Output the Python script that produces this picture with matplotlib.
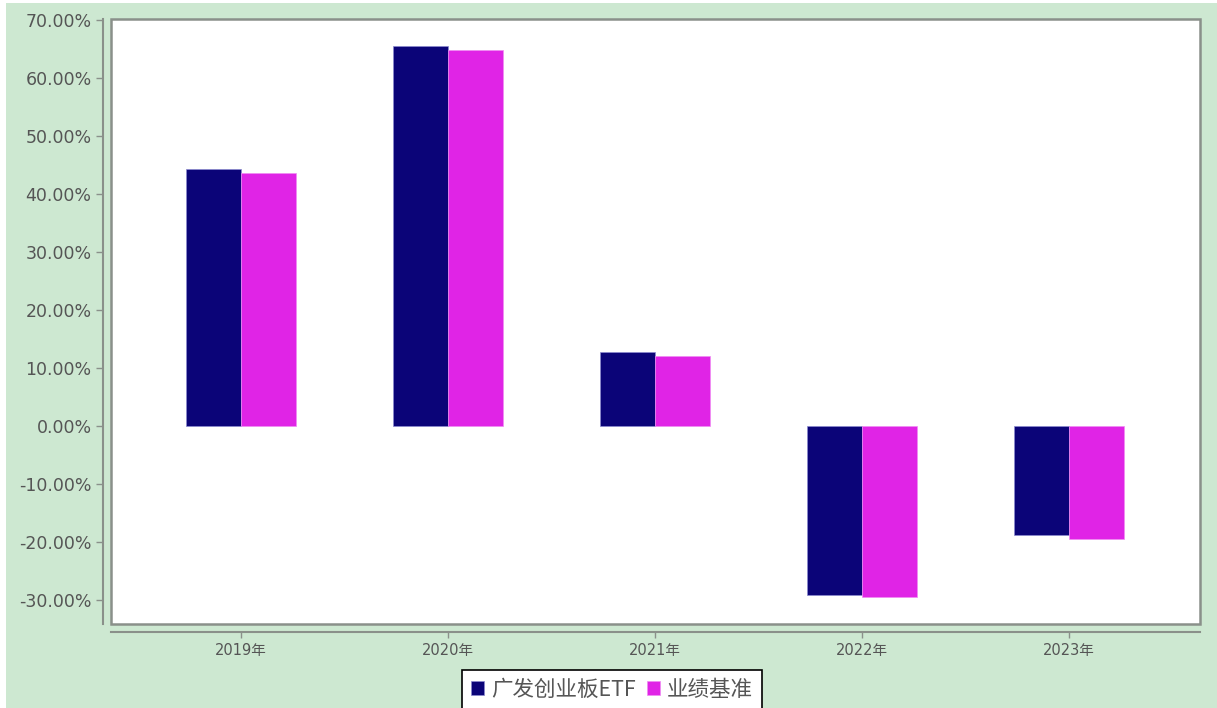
import matplotlib
matplotlib.use('Agg')
import matplotlib.pyplot as plt
from matplotlib.patches import Rectangle
from matplotlib.ticker import FuncFormatter, MultipleLocator
import numpy as np

plt.rcParams['font.family'] = ['DejaVu Sans', 'Noto Sans CJK SC']

# 数据
years = ['2019年', '2020年', '2021年', '2022年', '2023年']
fund = [44.3, 65.6, 12.8, -29.2, -18.8]
bench = [43.6, 64.9, 12.0, -29.4, -19.4]
names = ['广发创业板ETF', '业绩基准']

green = '#cde8d1'
navy = '#0b0478'
pink = '#e024e6'
grey = '#8a908a'

W, H = 1217, 708
fig = plt.figure(figsize=(W / 100, H / 100), dpi=100, facecolor='white')
# fondo verde con borde blanco arriba/izquierda
fig.patches.append(Rectangle((6 / W, 0), 1 - 6 / W, 1 - 3 / H, transform=fig.transFigure,
                             facecolor=green, edgecolor='none', zorder=-10))

ax = fig.add_axes([111 / W, 1 - 624 / H, (1200 - 111) / W, (624 - 19) / H])
ax.set_facecolor('white')

x = np.arange(len(years))
w = 0.266
ax.bar(x - w / 2, fund, w, color=navy, edgecolor='#8c8ad0', linewidth=0.5, label=names[0], zorder=2)
ax.bar(x + w / 2, bench, w, color=pink, edgecolor='#f08cf2', linewidth=0.5, label=names[1], zorder=2)

ax.set_xlim(-0.628, 4.633)
ax.set_ylim(-34.14, 70.17)
ax.yaxis.set_major_locator(MultipleLocator(10))
ax.yaxis.set_major_formatter(FuncFormatter(lambda v, p: f'{v:.2f}%'))
ax.set_xticks(x)
ax.set_xticklabels(years)

# ejes separados del marco
for s in ['left', 'bottom']:
    ax.spines[s].set_position(('outward', 6))
    ax.spines[s].set_color(grey)
    ax.spines[s].set_linewidth(1.5)
for s in ['top', 'right']:
    ax.spines[s].set_visible(False)
ax.add_patch(Rectangle((0, 0), 1, 1, transform=ax.transAxes, fill=False,
                       edgecolor=grey, linewidth=1.8, clip_on=False, zorder=5))

ax.tick_params(axis='y', colors=grey, labelcolor='#555555', labelsize=12.5, length=5, width=1, pad=3)
ax.tick_params(axis='x', colors=grey, labelcolor='#555555', labelsize=10.5, length=4, width=1, pad=4)

leg = fig.legend(loc='lower center', bbox_to_anchor=(612 / W, -12 / H), ncol=2,
                 frameon=True, fancybox=False, edgecolor='black', facecolor='white', framealpha=1,
                 handlelength=0.6, handleheight=0.6, handletextpad=0.35, columnspacing=0.5,
                 borderpad=0.4, prop={'family': ['Noto Sans CJK SC', 'DejaVu Sans'], 'size': 15.5})
leg.get_frame().set_linewidth(1.2)
for t in leg.get_texts():
    t.set_color('#555555')

fig.savefig('out.png', dpi=100, facecolor=fig.get_facecolor())
